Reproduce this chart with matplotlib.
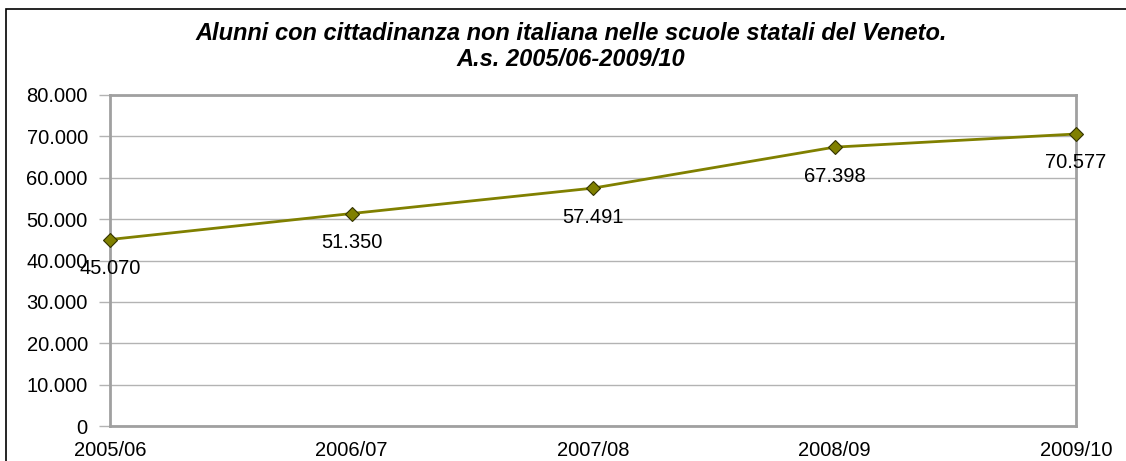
import matplotlib.pyplot as plt
from matplotlib.patches import Rectangle

plt.rcParams['font.family'] = ['Liberation Sans', 'DejaVu Sans']

years = ['2005/06', '2006/07', '2007/08', '2008/09', '2009/10']
pupils = [45070, 51350, 57491, 67398, 70577]
yticks = [0, 10000, 20000, 30000, 40000, 50000, 60000, 70000, 80000]


def it_fmt(v):
    return f'{v:,.0f}'.replace(',', '.')


W, H = 1126, 461
fig = plt.figure(figsize=(W / 100, H / 100), dpi=100)
ax = fig.add_axes([110 / W, 1 - 426 / H, 966 / W, 331 / H])

# outer chart border
fig.patches.append(Rectangle((6 / W, -0.1), 1.2, 1 - 9 / H + 0.1,
                             transform=fig.transFigure, fill=False,
                             edgecolor='black', linewidth=1.2))

FS = 14.5
xs = range(len(years))
ax.plot(xs, pupils, color='#808000', linewidth=2, marker='D', markersize=7,
        markerfacecolor='#808000', markeredgecolor='#333300',
        markeredgewidth=0.8, zorder=3, clip_on=False)

for x, v in zip(xs, pupils):
    ax.annotate(it_fmt(v), (x, v), xytext=(0, -29), textcoords='offset pixels',
                ha='center', va='center', fontsize=FS, zorder=4)

ax.set_xlim(0, len(years) - 1)
ax.set_ylim(0, 80000)
ax.set_yticks(yticks)
ax.set_yticklabels([it_fmt(v) for v in yticks], fontsize=FS)
ax.set_xticks(list(xs))
ax.set_xticklabels(years, fontsize=FS)
ax.tick_params(axis='x', length=0, pad=11)
ax.tick_params(axis='y', length=8, color='#b3b3b3', width=1, pad=8)
ax.grid(axis='y', color='#b3b3b3', linewidth=1)
ax.set_axisbelow(True)
for s in ax.spines.values():
    s.set_color('#a0a0a0')
    s.set_linewidth(2)

title_kw = dict(ha='center', va='center', fontsize=17, fontweight='bold', style='italic')
fig.text(571 / W, 1 - 33 / H, 'Alunni con cittadinanza non italiana nelle scuole statali del Veneto.', **title_kw)
fig.text(571 / W, 1 - 59 / H, 'A.s. 2005/06-2009/10', **title_kw)

fig.savefig('out.png', dpi=100)
